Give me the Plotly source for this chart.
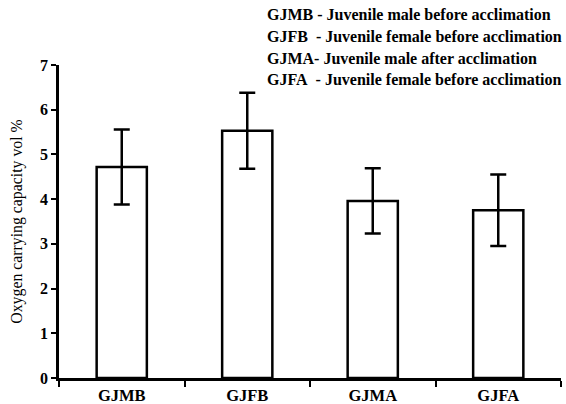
import plotly.graph_objects as go

categories = ["GJMB", "GJFB", "GJMA", "GJFA"]
means = [4.72, 5.53, 3.96, 3.75]
errors = [0.84, 0.85, 0.73, 0.80]
y_ticks = [0, 1, 2, 3, 4, 5, 6, 7]
legend_lines = [
    "GJMB - Juvenile male before acclimation",
    "GJFB  - Juvenile female before acclimation",
    "GJMA- Juvenile male after acclimation",
    "GJFA  - Juvenile female before acclimation",
]

FONT = "Liberation Serif"

W, H = 566, 404
L, R, T, B = 59, 5, 65, 26
plot_w = W - L - R
plot_h = H - T - B

fig = go.Figure()
fig.add_trace(go.Bar(
    x=categories, y=means, width=0.4,
    marker=dict(color="white", line=dict(color="black", width=2.5)),
    error_y=dict(type="data", array=errors, visible=True,
                 color="black", thickness=2.5, width=8),
    showlegend=False,
))

line_y = [15, 37, 58, 80]
for i, line in enumerate(legend_lines):
    fig.add_annotation(
        x=(265 - L) / plot_w, y=(H - B - line_y[i]) / plot_h,
        xref="paper", yref="paper", xanchor="left", yanchor="middle",
        text="<b>" + line.replace("  ", "&nbsp; ") + "</b>", showarrow=False,
        font=dict(family=FONT, size=16, color="black"),
    )

fig.update_layout(
    width=W, height=H,
    margin=dict(l=L, r=R, t=T, b=B, autoexpand=False),
    plot_bgcolor="white", paper_bgcolor="white",
    font=dict(family=FONT, size=15, color="black"),
)
fig.update_xaxes(
    type="category", range=[-0.5, 3.5],
    showline=True, linecolor="black", linewidth=2.5,
    ticks="outside", tickson="boundaries", ticklen=6, tickwidth=2, tickcolor="black",
    tickfont=dict(family=FONT, size=16.5, color="black", weight="bold"),
    showgrid=False, zeroline=False,
)
fig.update_yaxes(
    range=[0, 7], tickvals=y_ticks, ticktext=[str(v) for v in y_ticks],
    showline=True, linecolor="black", linewidth=2.5,
    ticks="outside", ticklen=5, tickwidth=2, tickcolor="black",
    tickfont=dict(family=FONT, size=16, color="black", weight="bold"),
    showgrid=False, zeroline=False,
    title=dict(text="Oxygen carrying capacity vol %", standoff=14,
               font=dict(family=FONT, size=15.8, color="black")),
)

fig.write_html(
    "out.html",
    config={"displayModeBar": False},
    post_script="document.body.style.margin='0';document.body.style.overflow='hidden';",
)
